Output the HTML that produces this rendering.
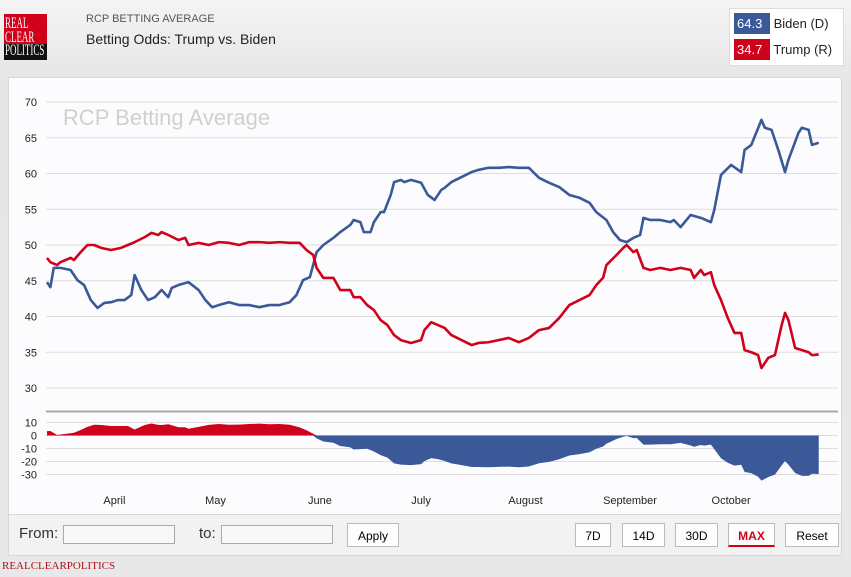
<!DOCTYPE html>
<html><head><meta charset="utf-8">
<style>
body{margin:0;width:851px;height:577px;overflow:hidden;background:linear-gradient(#f4f4f4,#e6e6e6 80px,#e8e8e8);font-family:"Liberation Sans",sans-serif;position:relative}
.abs{position:absolute}
#logo{left:4px;top:14px;width:43px;height:46px;background:#d0021b;overflow:hidden}
#logo .t{position:absolute;left:1px;top:3px;color:#fff;font-family:"Liberation Serif",serif;font-size:16px;line-height:13.5px;transform:scaleX(0.56);transform-origin:0 0;white-space:nowrap}
#logo .b{position:absolute;left:0;top:30px;width:43px;height:16px;background:#111}
#panel{left:8px;top:77px;width:834px;height:438px;background:#fcfcfe;border:1px solid #d8d8d8;box-sizing:border-box}
#controls{left:8px;top:515px;width:834px;height:41px;background:#f2f2f2;border:1px solid #d8d8d8;border-top:none;box-sizing:border-box}
.btn{position:absolute;top:8px;height:24px;border:1px solid #bbb;background:#fdfdfd;font-size:12px;line-height:24px;text-align:center;box-sizing:border-box}
.inp{position:absolute;top:10px;height:19px;border:1px solid #aaa;background:#f8f8f8;box-sizing:border-box}
</style></head><body>
<div id="logo" class="abs"><div class="b"></div><div class="t">REAL<br>CLEAR<br>POLITICS</div></div>
<div class="abs" style="left:86px;top:13px;font-size:11px;color:#555">RCP BETTING AVERAGE</div>
<div class="abs" style="left:86px;top:31px;font-size:14px;color:#222">Betting Odds: Trump vs. Biden</div>
<div class="abs" style="left:729px;top:8px;width:113px;height:56px;background:#fff;border:1px solid #ddd">
 <div style="position:absolute;left:4px;top:4px;font-size:13px;color:#222"><span style="display:inline-block;background:#3b5998;color:#fff;padding:3px 3px;width:30px">64.3</span> Biden (D)</div>
 <div style="position:absolute;left:4px;top:30px;font-size:13px;color:#222"><span style="display:inline-block;background:#d0021b;color:#fff;padding:3px 3px;width:30px">34.7</span> Trump (R)</div>
</div>
<div id="panel" class="abs"></div>
<svg class="abs" style="left:0;top:0" width="851" height="577">
 <text x="63" y="125" font-size="22" fill="#d0d0d0" font-family="Liberation Sans">RCP Betting Average</text>
 <g id="grid"></g><g id="marks"></g>
</svg>
<div id="controls" class="abs">
 <span style="position:absolute;left:10px;top:10px;font-size:15px;color:#333">From:</span>
 <div class="inp" style="left:54px;width:112px"></div>
 <span style="position:absolute;left:190px;top:10px;font-size:15px;color:#333">to:</span>
 <div class="inp" style="left:212px;width:112px"></div>
 <div class="btn" style="left:338px;width:52px">Apply</div>
 <div class="btn" style="left:566px;width:36px">7D</div>
 <div class="btn" style="left:613px;width:43px">14D</div>
 <div class="btn" style="left:666px;width:43px">30D</div>
 <div class="btn" style="left:719px;width:47px;color:#d0021b;font-weight:bold;border-bottom:2px solid #d0021b">MAX</div>
 <div class="btn" style="left:776px;width:54px">Reset</div>
</div>
<div class="abs" style="left:2px;top:560px;font-family:'Liberation Serif',serif;font-size:11px;color:#b0101c">REALCLEARPOLITICS</div>
<script>
const bidenDays=[0,1,2,4,7,9,11,13,15,17,19,21,23,25,26,28,30,32,34,36,37,39,42,45,47,49,51,54,57,60,63,66,69,72,74,76,78,80,82,85,87,90,91,93,94,96,97,99,100,102,103,105,106,108,111,113,115,117,118,120,123,126,128,131,134,137,140,143,146,149,152,155,158,161,163,166,168,170,172,174,176,177,179,182,185,186,188,191,194,197,198,200,203,206,207,209,212,213,215,217,219,220,223,224,226,227,229];
const bidenVals=[44.8,44.1,46.8,46.8,46.5,45.1,44.4,42.3,41.2,41.9,42.0,42.3,42.3,43.0,45.8,43.7,42.3,42.7,43.7,42.7,44.0,44.4,44.8,43.7,42.3,41.3,41.6,42.0,41.6,41.6,41.3,41.6,41.6,42.0,43.0,45.1,45.5,49.0,50.0,51.0,51.8,52.8,53.5,53.2,51.8,51.8,53.2,54.6,54.6,57.0,58.8,59.1,58.8,59.1,58.7,57.0,56.3,57.7,58.0,58.8,59.5,60.2,60.5,60.8,60.8,60.9,60.8,60.8,59.4,58.7,58.1,57.0,56.6,55.9,54.6,53.5,51.8,50.7,50.4,51.0,51.4,53.8,53.5,53.5,53.2,53.5,52.5,54.2,53.8,53.2,54.9,59.8,61.2,60.2,63.3,64.0,67.5,66.4,66.1,63.3,60.2,61.9,65.7,66.4,66.1,64.0,64.3];
const trumpDays=[0,1,3,4,7,8,10,12,14,16,19,22,24,26,29,31,33,34,36,39,41,42,45,48,51,54,57,60,63,66,69,72,75,77,79,80,82,85,87,90,91,93,95,97,99,101,103,105,108,111,112,114,116,118,120,123,126,128,131,134,137,140,143,146,149,152,155,158,161,163,165,166,169,171,172,174,175,177,179,182,185,188,191,192,194,195,197,198,200,202,204,206,207,209,211,212,214,216,218,219,220,222,224,226,227,229];
const trumpVals=[48.2,47.6,47.2,47.6,48.2,47.9,49.0,50.0,50.0,49.6,49.3,49.6,50.0,50.4,51.1,51.7,51.4,51.8,51.4,50.7,51.0,50.0,50.3,50.0,50.4,50.3,50.0,50.4,50.4,50.3,50.4,50.3,50.3,49.3,48.6,46.8,45.4,45.4,43.7,43.7,42.7,42.7,41.6,40.9,39.5,38.8,37.4,36.7,36.3,36.7,38.1,39.2,38.8,38.4,37.4,36.7,36.0,36.3,36.4,36.7,37.0,36.4,37.0,38.1,38.4,39.8,41.6,42.3,43.0,44.4,45.4,47.2,48.6,49.6,50.0,49.0,49.3,46.8,46.5,46.8,46.5,46.8,46.5,45.4,46.5,45.8,46.2,44.4,42.3,39.8,37.7,37.7,35.3,35.0,34.6,32.8,34.2,34.6,38.8,40.5,39.5,35.6,35.3,35.0,34.6,34.7];
const yTicks=[70,65,60,55,50,45,40,35,30];
const spreadTicks=[10,0,-10,-20,-30];
const spreadLabels=["10","0","-10","-20","-30"];
const monthLabels=["April","May","June","July","August","September","October"];
const monthDays=[20,50,81,111,142,173,203];

const NS="http://www.w3.org/2000/svg";
const x=d=>47+d*3.37;
const y=v=>102+(70-v)*7.15;
const ys=v=>435.5-v*1.3;
function mk(tag,attrs,parent){const e=document.createElementNS(NS,tag);for(const k in attrs)e.setAttribute(k,attrs[k]);parent.appendChild(e);return e;}
const grid=document.getElementById('grid'),marks=document.getElementById('marks');
yTicks.forEach(t=>{
 const l=mk('line',{x1:46,x2:838,y1:y(t),y2:y(t),stroke:'#dcdcdc','stroke-width':1},grid);
 
 
 const tx=mk('text',{x:37,y:y(t)+4,'text-anchor':'end','font-size':11,fill:'#222','font-family':'Liberation Sans'},grid);
 tx.textContent=t;
 
 
});
spreadTicks.forEach((t,i)=>{
 const l=mk('line',{x1:46,x2:838,y1:ys(t),y2:ys(t),stroke:'#dcdcdc','stroke-width':1},grid);
 
 
 const tx=mk('text',{x:37,y:ys(t)+4,'text-anchor':'end','font-size':11,fill:'#222','font-family':'Liberation Sans'},grid);
 tx.textContent=spreadLabels[i];
 
 
});
const sep=mk('line',{x1:46,x2:838,y1:411.5,y2:411.5,stroke:'#aaa','stroke-width':2},grid);


monthLabels.forEach((m,i)=>{
 const tx=mk('text',{x:x(monthDays[i]),y:504,'text-anchor':'middle','font-size':11,fill:'#222','font-family':'Liberation Sans'},grid);
 tx.textContent=m;
 
 
});
function bAt(d){for(let i=1;i<bidenDays.length;i++){if(bidenDays[i]>=d){const a=bidenDays[i-1],b=bidenDays[i];const f=b===a?0:(d-a)/(b-a);return bidenVals[i-1]+f*(bidenVals[i]-bidenVals[i-1]);}}return bidenVals[bidenVals.length-1];}
const spread=trumpDays.map((d,i)=>trumpVals[i]-bAt(d));
let pos='M'+x(trumpDays[0])+','+ys(0),neg=pos;
spread.forEach((s,i)=>{pos+=' L'+x(trumpDays[i])+','+ys(Math.max(s,0));neg+=' L'+x(trumpDays[i])+','+ys(Math.min(s,0));});
const last=x(trumpDays[trumpDays.length-1]);
pos+=' L'+last+','+ys(0)+' Z';neg+=' L'+last+','+ys(0)+' Z';
const pa=mk('path',{d:pos,fill:'#d0021b'},marks);


const na=mk('path',{d:neg,fill:'#3b5998'},marks);


function line(days,vals,color,name){
 const d=days.map((dd,i)=>(i?'L':'M')+x(dd)+','+y(vals[i])).join(' ');
 const p=mk('path',{d:d,fill:'none',stroke:color,'stroke-width':2.6,'stroke-linejoin':'round'},marks);
 
 
}
line(bidenDays,bidenVals,'#3b5998','biden-line');
line(trumpDays,trumpVals,'#d0021b','trump-line');
</script>
</body></html>
